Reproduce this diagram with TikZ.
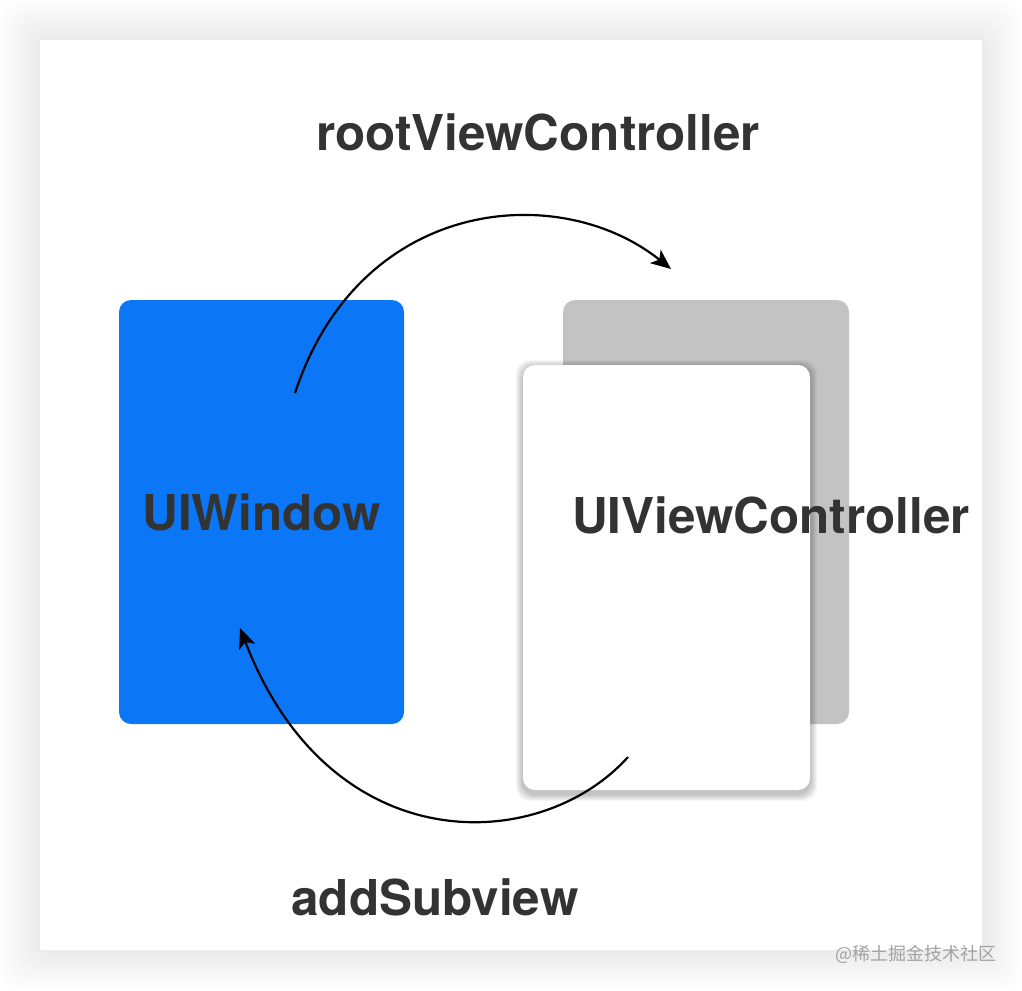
\documentclass[tikz,border=0pt]{standalone}
\usepackage{fontspec}
\setmainfont{TeX Gyre Heros}
\newfontfamily\cjkfont{Noto Sans CJK SC}
\usetikzlibrary{arrows.meta}
\definecolor{windowblue}{HTML}{0B77F6}
\definecolor{cardgray}{HTML}{C3C3C3}
\definecolor{labelink}{HTML}{333333}
\definecolor{markgray}{HTML}{A3A3A3}

\begin{document}
\begin{tikzpicture}[
  x=0.5pt, y=-0.5pt,
  every node/.style={inner sep=0pt, outer sep=0pt},
  lbl/.style={font=\fontsize{24.7}{28}\selectfont\bfseries, text=labelink},
  winbox/.style={lbl, fill=windowblue, rounded corners=6pt, minimum width=142.5pt, minimum height=212pt},
  backcard/.style={fill=cardgray, rounded corners=6pt, minimum width=143pt, minimum height=212pt},
  frontcard/.style={fill=white, rounded corners=6pt, minimum width=143.5pt, minimum height=212.5pt},
  arr/.style={-{Stealth[length=10pt, width=8.5pt, inset=2.5pt]}, line width=1.1pt, black},
  wmark/.style={font=\cjkfont\fontsize{9}{10}\selectfont, text=markgray},
]
  \useasboundingbox (0,0) rectangle (1022,990);
  \fill[white] (0,0) rectangle (1022,990);
  \foreach \d in {2,4,...,40}
    \fill[black, opacity=0.0055, rounded corners=8pt] (40-\d,40-\d) rectangle (982+\d,950+\d);
  \fill[white] (40,40) rectangle (982,950);

  \node[winbox] (window) at (261.5,512) {UIWindow};
  \node[backcard] (backvc) at (706,512) {};
  \foreach \d in {1,...,7}
    \fill[black, opacity=0.035, rounded corners=7pt] (523-\d,367-\d) rectangle (810+\d,794+\d);
  \node[frontcard] (frontvc) at (666.5,577.5) {};

  \node[lbl, anchor=base] (rvcLabel) at (538,150) {rootViewController};
  \node[lbl, anchor=base] (vcLabel) at (771,533) {UIViewController};
  \node[lbl, anchor=base] (subLabel) at (435,915) {addSubview};
  \node[wmark, anchor=base] (mark) at (916,960) {@稀土掘金技术社区};

  \coordinate (rvcFrom) at (295,393);
  \coordinate (rvcTo) at (671,269);
  \coordinate (subFrom) at (628,757);
  \coordinate (subTo) at (240,628);
  \draw[arr] (rvcFrom) .. controls (360,196) and (560,180) .. (rvcTo);
  \draw[arr] (subFrom) .. controls (540,855) and (330,862) .. (subTo);
\end{tikzpicture}
\end{document}
